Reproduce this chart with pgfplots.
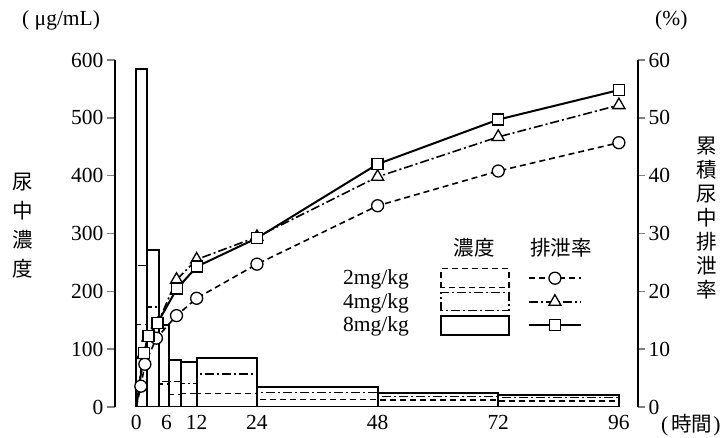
\documentclass[border=0pt]{standalone}
\usepackage{pgfplots}
\pgfplotsset{compat=1.18}
\usepackage{fontspec}
\setmainfont{Liberation Serif}
\newfontfamily\cjk{Noto Sans CJK JP}

\pgfplotstableread{
x y
0 585
2.2 272
4.5 142
6.6 82
8.8 77
12 85
24 35
48 24
72 21
96 0
}\concA
\pgfplotstableread{
x y
0 245
2.2 173
4.5 44
6.6 44
8.8 41
12 57
24 25
48 18
72 16
96 0
}\concB
\pgfplotstableread{
x y
0 143
2.2 118
4.5 40
6.6 22
8.8 23
12 23
24 13
48 12
72 10
96 0
}\concC
\pgfplotstableread{
x y
0 0
0.9 3.6
1.7 7.4
4 11.9
8 15.8
12 18.8
24 24.7
48 34.8
72 40.8
96 45.7
}\rateC
\pgfplotstableread{
x y
0 0
1.3 9.0
2.3 12.0
4.2 14.3
8 22
12 25.5
24 29.4
48 39.8
72 46.7
96 52.2
}\rateB
\pgfplotstableread{
x y
0 0
1.5 9.3
2.4 12.3
4.2 14.5
8.1 20.5
12.1 24.3
24 29.2
48 42
72 49.7
96 54.8
}\rateA

\def\fs{\fontsize{21.5}{24}\selectfont}
\def\cfs{\fontsize{20.5}{24}\selectfont}
\tikzset{
  dsh/.style={dash pattern=on 6pt off 4pt},
  dsd/.style={dash pattern=on 9pt off 3pt on 2pt off 3pt},
}

\begin{document}
\begin{tikzpicture}[x=1pt,y=1pt]
\path[use as bounding box] (0,0) rectangle (724,438);
\begin{axis}[
  at={(115pt,31pt)}, anchor=south west,
  scale only axis, width=523pt, height=347pt,
  xmin=-4.24, xmax=99.8, ymin=0, ymax=600,
  axis y line*=left, axis x line*=bottom,
  x axis line style={draw=none},
  y axis line style={-, line width=1.4pt},
  ytick={0,100,...,600},
  xtick={0,6,12,24,48,72,96},
  xtick style={draw=none},
  ytick style={line width=1.4pt},
  ytick align=outside, major tick length=8pt,
  ticklabel style={font=\fs},
  xticklabel style={yshift=-5pt},
  /pgf/number format/assume math mode=true,
]
\addplot[ybar interval, draw=black, fill=none, line width=1.5pt, dsh] table {\concC};
\addplot[ybar interval, draw=black, fill=none, line width=1.5pt, dsd] table {\concB};
\addplot[ybar interval, draw=black, fill=none, line width=2pt] table {\concA};
\end{axis}
\begin{axis}[
  at={(115pt,31pt)}, anchor=south west,
  scale only axis, width=523pt, height=347pt,
  xmin=-4.24, xmax=99.8, ymin=0, ymax=60,
  axis y line*=right, hide x axis,
  y axis line style={-, line width=1.4pt},
  ytick={0,10,...,60},
  ytick style={line width=1.4pt},
  ytick align=outside, major tick length=7pt,
  ticklabel style={font=\fs},
  /pgf/number format/assume math mode=true,
  legend plot pos=right, legend cell align=left,
  legend style={at={(axis description cs:0.436,0.4056)}, anchor=north west,
    draw=none, fill=none, inner sep=0pt, row sep=0pt, column sep=31pt,
    font=\fs, nodes={inner sep=0pt}},
]
\addlegendimage{legend image code/.code={
  \draw[line width=1.5pt, dsh] (0pt,-9.5pt) rectangle (68pt,9.5pt);
  \draw[line width=1.6pt, dsh] (88pt,0pt) -- (140pt,0pt);
  \draw[line width=1.3pt, solid, fill=white] (114pt,0pt) circle (6pt);
  \path[draw=none] (0pt,-11.75pt) rectangle (140pt,11.75pt);}}
\addlegendentry{2mg/kg}
\addlegendimage{legend image code/.code={
  \draw[line width=1.5pt, dsd] (0pt,-9pt) rectangle (68pt,9pt);
  \draw[line width=1.6pt, dsd] (88pt,0pt) -- (140pt,0pt);
  \draw[line width=1.3pt, solid, fill=white] (114pt,7pt) -- (108pt,-3.5pt) -- (120pt,-3.5pt) -- cycle;
  \path[draw=none] (0pt,-11.75pt) rectangle (140pt,11.75pt);}}
\addlegendentry{4mg/kg}
\addlegendimage{legend image code/.code={
  \draw[line width=2pt] (0pt,-9.5pt) rectangle (68pt,9.5pt);
  \draw[line width=2pt] (88pt,0pt) -- (140pt,0pt);
  \draw[line width=1.3pt, fill=white] (108.5pt,-5.5pt) rectangle (119.5pt,5.5pt);
  \path[draw=none] (0pt,-11.75pt) rectangle (140pt,11.75pt);}}
\addlegendentry{8mg/kg}
\addplot[forget plot, line width=1.6pt, dsh, mark=*, mark size=6pt, mark indices={2,3,...,10}, mark options={solid, line width=1.3pt, fill=white, draw=black}] table {\rateC};
\addplot[forget plot, line width=1.6pt, dsd, mark=triangle*, mark size=7pt, mark indices={2,3,...,10}, mark options={solid, line width=1.3pt, fill=white, draw=black}] table {\rateB};
\addplot[forget plot, line width=2pt, mark=square*, mark size=5.5pt, mark indices={2,3,...,10}, mark options={solid, line width=1.3pt, fill=white, draw=black}] table {\rateA};
\end{axis}
% headers and labels
\node[font=\cjk\cfs] at (474,190) {濃度};
\node[font=\cjk\cfs] at (561,190) {排泄率};
\foreach \c [count=\i from 0] in {尿,中,濃,度} {
  \node[font=\cjk\cfs] at (23,{438-182-29*\i}) {\c};
}
\foreach \c [count=\i from 0] in {累,積,尿,中,排,泄,率} {
  \node[font=\cjk\cfs] at (707,{438-146-24*\i}) {\c};
}
\node[font=\fs, anchor=west, inner sep=0pt] at (22,418) {( μg/mL)};
\node[font=\fs, anchor=west, inner sep=0pt] at (655,418) {(\%)};
\node[font=\fs, anchor=west, inner sep=0pt] at (661,13) {(\hspace{3pt}{\cjk\cfs 時間}\hspace{1pt})};
\end{tikzpicture}
\end{document}
